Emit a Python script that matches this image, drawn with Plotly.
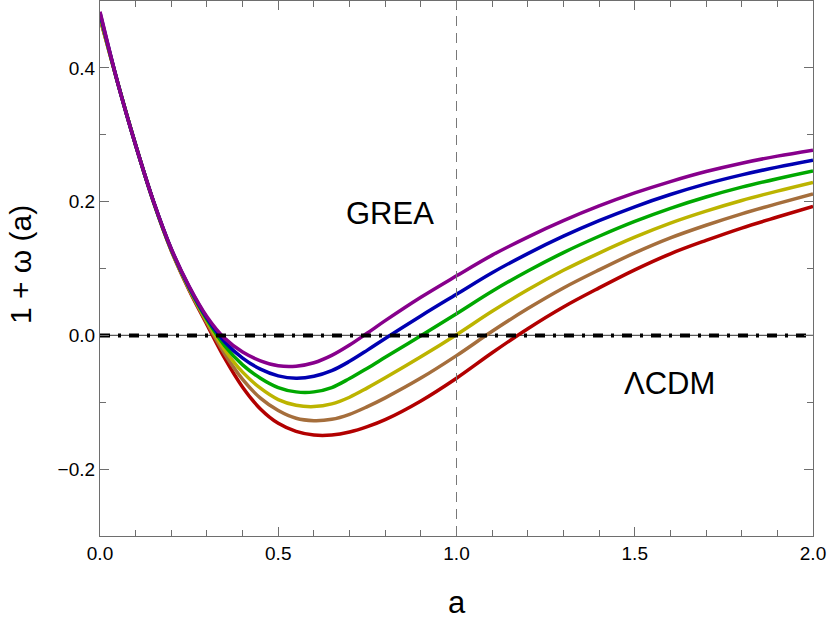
import plotly.graph_objects as go

# sample points of the scale factor a
a_vals = [0.0, 0.05, 0.1, 0.15, 0.2, 0.25, 0.3, 0.35, 0.4, 0.45, 0.5, 0.55, 0.6, 0.65,
          0.7, 0.75, 0.8, 0.9, 1.0, 1.1, 1.2, 1.3, 1.4, 1.5, 1.6, 1.7, 1.8, 1.9, 2.0]

purple = [0.484, 0.377, 0.2845, 0.2005, 0.1295, 0.0735, 0.028, -0.0045, -0.0250, -0.038, -0.0455,
          -0.0462, -0.041, -0.030, -0.0145, 0.0035, 0.022, 0.057, 0.089, 0.120, 0.147, 0.1715,
          0.1935, 0.213, 0.230, 0.245, 0.2575, 0.268, 0.277]
blue = [0.482, 0.377, 0.2845, 0.2003, 0.129, 0.0725, 0.026, -0.0099, -0.034, -0.0505, -0.0605,
        -0.064, -0.0612, -0.0528, -0.0388, -0.0221, -0.0046, 0.0291, 0.0615, 0.0937, 0.1223,
        0.1483, 0.1715, 0.1923, 0.2106, 0.2265, 0.240, 0.2516, 0.2619]
green = [0.480, 0.377, 0.2845, 0.2001, 0.1284, 0.0713, 0.0236, -0.0156, -0.0441, -0.064, -0.078,
         -0.0845, -0.0845, -0.078, -0.0645, -0.049, -0.0328, -0.0004, 0.0324, 0.066, 0.0963,
         0.1238, 0.1482, 0.1704, 0.190, 0.2069, 0.2216, 0.2343, 0.2459]
yellow = [0.478, 0.377, 0.2845, 0.1999, 0.1278, 0.070, 0.0211, -0.0218, -0.055, -0.079, -0.096,
          -0.1045, -0.1065, -0.1025, -0.0925, -0.0785, -0.0635, -0.0321, 0.001, 0.036, 0.0682,
          0.0973, 0.1231, 0.1469, 0.1679, 0.1858, 0.2017, 0.2157, 0.2287]
brown = [0.476, 0.377, 0.2845, 0.1997, 0.1272, 0.0688, 0.0186, -0.0279, -0.0658, -0.0939, -0.1124,
         -0.124, -0.1275, -0.1255, -0.118, -0.1065, -0.0934, -0.0639, -0.0303, 0.0061, 0.0401,
         0.0709, 0.0979, 0.1233, 0.1458, 0.1647, 0.1818, 0.197, 0.2115]
red = [0.474, 0.377, 0.2845, 0.1995, 0.1265, 0.0675, 0.016, -0.0345, -0.0775, -0.110, -0.1315,
       -0.1435, -0.149, -0.149, -0.1445, -0.1365, -0.126, -0.098, -0.064, -0.026, 0.010, 0.0425,
       0.071, 0.098, 0.122, 0.142, 0.1605, 0.177, 0.193]

series = [
    ("red", red, "rgb(178,0,0)"),
    ("brown", brown, "rgb(165,110,60)"),
    ("yellow", yellow, "rgb(188,180,0)"),
    ("green", green, "rgb(0,168,0)"),
    ("blue", blue, "rgb(0,0,178)"),
    ("purple", purple, "rgb(135,0,140)"),
]

lcdm_a = [0.0, 2.0]
lcdm_w = [0.0, 0.0]

x_ticks = [0.0, 0.5, 1.0, 1.5, 2.0]
y_ticks = [-0.2, 0.0, 0.2, 0.4]

FONT = "Liberation Sans, Arial, sans-serif"
FRAME = "rgb(110,110,110)"

fig = go.Figure()

# thin axis at y=0
fig.add_trace(go.Scatter(x=lcdm_a, y=lcdm_w, mode="lines",
                         line=dict(color="rgb(90,90,90)", width=1.2),
                         hoverinfo="skip", showlegend=False))

for name, vals, col in series:
    fig.add_trace(go.Scatter(x=a_vals, y=vals, mode="lines", name=name,
                             line=dict(color=col, width=3.5, shape="spline", smoothing=1.0),
                             showlegend=False))

# Lambda CDM line
fig.add_trace(go.Scatter(x=lcdm_a, y=lcdm_w, mode="lines",
                         line=dict(color="black", width=4, dash="10px,8px,3px,8px"),
                         hoverinfo="skip", showlegend=False))

# vertical dashed line at a = 1
fig.add_shape(type="line", x0=1, x1=1, y0=0, y1=1, xref="x", yref="paper",
              line=dict(color="rgb(120,120,120)", width=1, dash="10px,7px"))

fig.add_annotation(x=0.813, y=0.182, text="GREA", showarrow=False,
                   font=dict(family=FONT, size=31, color="black"))
fig.add_annotation(x=1.597, y=-0.072, text="ΛCDM", showarrow=False,
                   font=dict(family=FONT, size=31, color="black"))

# axis titles
fig.add_annotation(x=0.5, y=-0.1252, xref="paper", yref="paper", text="a", showarrow=False,
                   yanchor="middle", font=dict(family=FONT, size=31, color="black"))
fig.add_annotation(x=-0.1122, y=0.5065, xref="paper", yref="paper", text="1 + ω (a)",
                   showarrow=False, textangle=-90, xanchor="center", yanchor="middle",
                   font=dict(family=FONT, size=30, color="black"))

axis_common = dict(showline=True, linecolor=FRAME, linewidth=1.2, mirror="ticks",
                   ticks="inside", ticklen=9, tickwidth=1, tickcolor=FRAME,
                   showgrid=False, zeroline=False, tickformat=".1f", automargin=False,
                   tickfont=dict(family=FONT, size=19, color="black"))

fig.update_xaxes(range=[0, 2], tickvals=x_ticks,
                 minor=dict(dtick=0.1, ticks="inside", ticklen=6, tickcolor=FRAME, showgrid=False),
                 **axis_common)
fig.update_yaxes(range=[-0.3, 0.5], tickvals=y_ticks,
                 minor=dict(dtick=0.1, ticks="inside", ticklen=6, tickcolor=FRAME, showgrid=False),
                 **axis_common)

fig.update_layout(width=830, height=620,
                  margin=dict(l=100, r=17, t=1, b=84),
                  plot_bgcolor="white", paper_bgcolor="white")

fig.write_html("out.html", config={"displayModeBar": False},
               post_script="document.body.style.margin='0';document.body.style.overflow='hidden';")
